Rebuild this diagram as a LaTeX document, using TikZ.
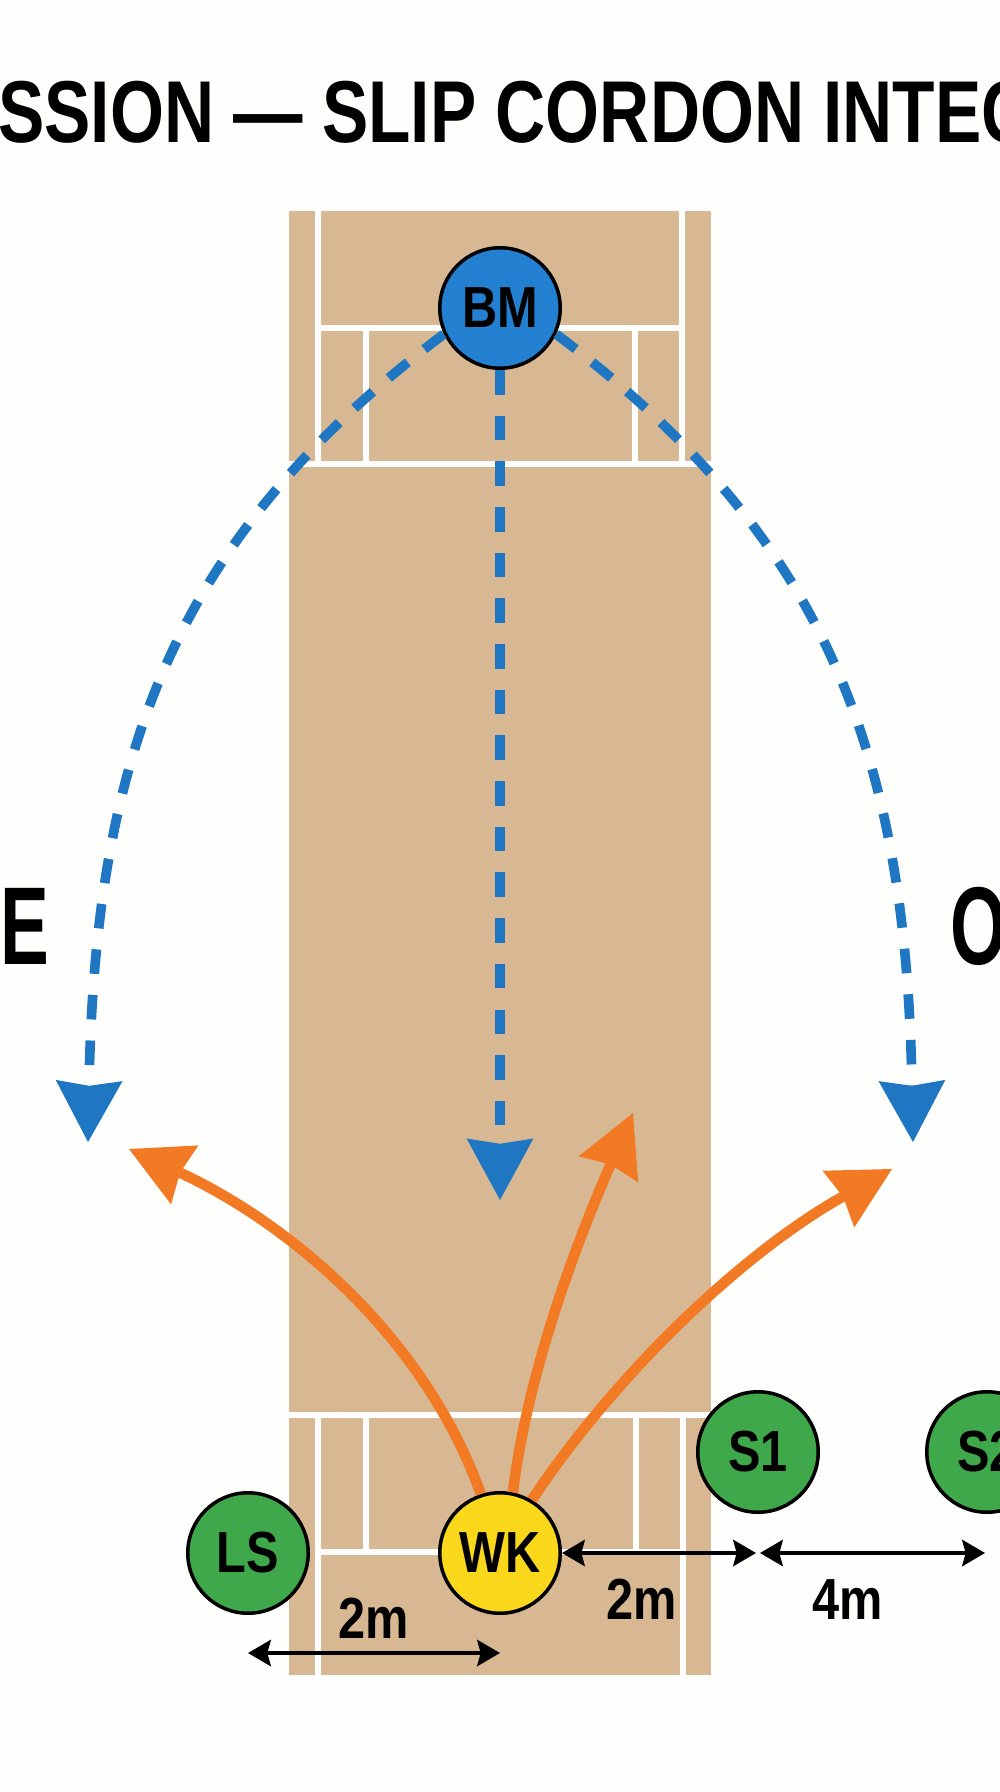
\documentclass[tikz,border=0pt]{standalone}
\usepackage{fontspec}
\usepackage{tikz}
\usetikzlibrary{arrows.meta,calc,positioning}
\newfontfamily\titrefont[FakeStretch=0.79]{Liberation Sans}
\newfontfamily\etiqfont[FakeStretch=0.84]{Liberation Sans}
\newfontfamily\cotefont[FakeStretch=0.66]{Liberation Sans}
\definecolor{fond}{HTML}{FEFEFC}
\definecolor{terrain}{HTML}{D8B892}
\definecolor{bleu}{HTML}{1F77C4}
\definecolor{bleuBM}{HTML}{2380D0}
\definecolor{orange}{HTML}{F27A24}
\definecolor{vert}{HTML}{3FA84A}
\definecolor{jaune}{HTML}{F9D71B}
\tikzset{
  joueur/.style={circle, draw=black, line width=2pt, minimum size=2.41cm, inner sep=0pt,
    font={\etiqfont\bfseries\fontsize{33pt}{36pt}\selectfont}},
  ligne/.style={white, line width=3.4pt},
  livraison/.style={bleu, line width=5.5pt, dash pattern=on 14pt off 12pt,
    -{Stealth[length=35pt, width=38pt, inset=3pt, line width=0pt]}},
  renvoi/.style={orange, line width=6pt,
    -{Stealth[length=35pt, width=37pt, inset=3pt, line width=0pt]}},
  cote/.style={black, line width=2pt,
    {Stealth[length=13pt, width=15pt, inset=2pt]}-{Stealth[length=13pt, width=15pt, inset=2pt]}},
  etiq/.style={inner sep=0pt, font={\etiqfont\bfseries\fontsize{33pt}{36pt}\selectfont}}
}
\begin{document}
\begin{tikzpicture}[x=0.02cm, y=-0.02cm]
\useasboundingbox (0,0) rectangle (1000,1792);
\clip (0,0) rectangle (1000,1792);
\fill[fond] (0,0) rectangle (1000,1792);
\node[anchor=base west, inner sep=0pt, font={\titrefont\bfseries\fontsize{50pt}{55pt}\selectfont}] (titre) at (-2,142) {SSION — SLIP CORDON INTEC};
\node[anchor=base west, inner sep=0pt, font={\cotefont\bfseries\fontsize{63pt}{68pt}\selectfont}] (cotegauche) at (0,964) {E};
\node[anchor=base west, inner sep=0pt, font={\cotefont\bfseries\fontsize{63pt}{68pt}\selectfont}] (cotedroit) at (950,964) {O};

% le terrain
\fill[terrain] (289,211) rectangle (711,1675);
\draw[ligne] (318,211) -- (318,464) (682,211) -- (682,464);
\draw[ligne] (318,328) -- (682,328);
\draw[ligne] (366,328) -- (366,464) (635,328) -- (635,464);
\draw[ligne] (289,464) -- (711,464);
\draw[ligne] (289,1415) -- (711,1415);
\draw[ligne] (318,1415) -- (318,1675) (683,1415) -- (683,1675);
\draw[ligne] (366,1415) -- (366,1552) (636,1415) -- (636,1552);
\draw[ligne] (318,1552) -- (683,1552);

\node[joueur, fill=bleuBM] (bm) at (500,308) {BM};
\node[joueur, fill=jaune] (wk) at (500,1553) {WK};
\node[joueur, fill=vert] (ls) at (248,1553) {LS};
\node[joueur, fill=vert] (s1) at (758,1452) {S1};
\node[joueur, fill=vert] (s2) at (987,1452) {S2};

\coordinate (finG) at (88,1142);
\coordinate (finC) at (500,1200);
\coordinate (finD) at (913,1142);
\draw[livraison] (bm.205) .. controls (170,540) and (95,760) .. (finG);
\draw[livraison] (bm.south) -- (finC);
\draw[livraison] (bm.335) .. controls (831,540) and (906,760) .. (finD);

\coordinate (renvoiG) at (129,1149);
\coordinate (renvoiC) at (633,1113);
\coordinate (renvoiD) at (892,1169);
\draw[renvoi] (wk.108) .. controls (422,1330) and (282,1220) .. (renvoiG);
\draw[renvoi] (wk.78) .. controls (529,1361) and (585,1223) .. (renvoiC);
\draw[renvoi] (wk.59) .. controls (617,1372) and (744,1252) .. (renvoiD);

\draw[cote] ($(ls.center)+(0,100)$) -- ($(wk.center)+(0,100)$) node[pos=0.5, above=7pt, etiq] (d1) {2m};
\draw[cote] (wk.east) -- ($(wk.east -| s1.center)+(-2,0)$) node[pos=0.41, below=14pt, etiq] (d2) {2m};
\draw[cote] ($(wk.east -| s1.center)+(2,0)$) -- ($(wk.east -| s2.center)+(-2,0)$) node[pos=0.39, below=14pt, etiq] (d3) {4m};
\end{tikzpicture}
\end{document}
